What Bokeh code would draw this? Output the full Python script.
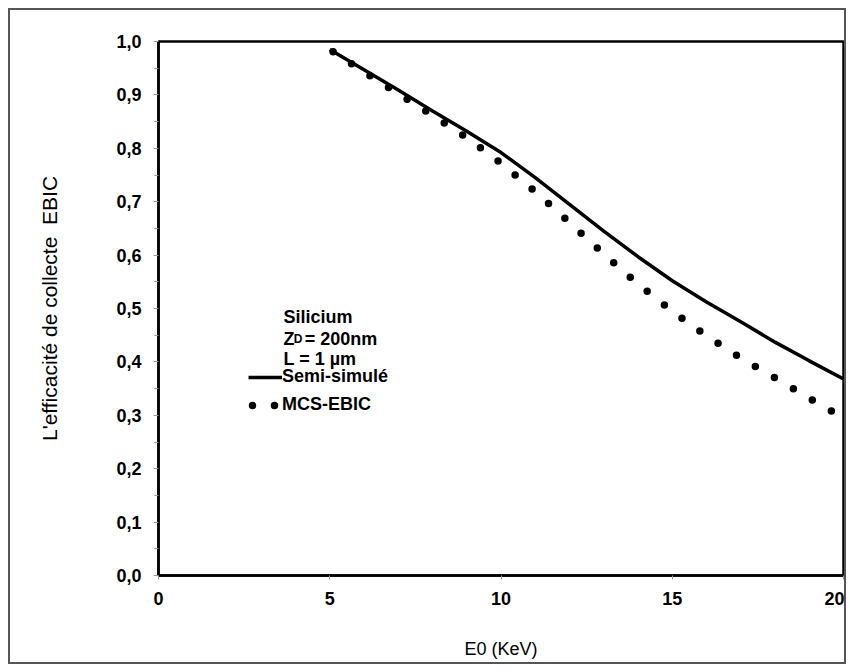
from bokeh.plotting import figure
from bokeh.models import FixedTicker, Legend, LegendItem, Label, Range1d
from bokeh.embed import file_html
from bokeh.resources import INLINE

# ---- data ----
energy_kev = [5, 6, 7, 8, 9, 10, 11, 12, 13, 14, 15, 16, 17, 18, 19, 20]
semi_simule = [0.985, 0.947, 0.909, 0.870, 0.832, 0.792, 0.745, 0.695,
               0.645, 0.597, 0.552, 0.512, 0.475, 0.437, 0.402, 0.368]
mcs_ebic = [0.985, 0.943, 0.902, 0.862, 0.820, 0.772, 0.719, 0.661,
            0.602, 0.546, 0.495, 0.449, 0.407, 0.370, 0.332, 0.295]

x_ticks = [0, 5, 10, 15, 20]
x_tick_labels = ["0", "5", "10", "15", "20"]
y_ticks = [0.0, 0.1, 0.2, 0.3, 0.4, 0.5, 0.6, 0.7, 0.8, 0.9, 1.0]
y_tick_labels = ["0,0", "0,1", "0,2", "0,3", "0,4", "0,5", "0,6", "0,7", "0,8", "0,9", "1,0"]
y_minor = [round(t + 0.05, 2) for t in y_ticks[:-1]]

series_names = ["Semi-simulé", "MCS-EBIC"]
x_title = "E0 (KeV)"
y_title = "L'efficacité de collecte\u00a0 EBIC"
note_lines = ["Silicium", "Z", "D", "= 200nm", "L = 1 µm"]

FONT = "Liberation Sans"

p = figure(width=838, height=656, output_backend="svg", toolbar_location=None,
           x_range=Range1d(0, 20), y_range=Range1d(0, 1.0),
           min_border_left=148, min_border_right=5, min_border_top=31,
           min_border_bottom=91)
p.margin = (8, 0, 0, 8)
p.styles = {"border": "2px solid #555"}

p.grid.visible = False
p.outline_line_color = "black"
p.outline_line_width = 2.5
p.background_fill_color = "white"
p.border_fill_color = "white"

# axes
p.xaxis.ticker = FixedTicker(ticks=x_ticks)
p.xaxis.major_label_overrides = dict(zip(x_ticks, x_tick_labels))
p.yaxis.ticker = FixedTicker(ticks=y_ticks, minor_ticks=y_minor)
p.yaxis.major_label_overrides = dict(zip(y_ticks, y_tick_labels))

for ax in (p.xaxis[0], p.yaxis[0]):
    ax.axis_line_color = "black"
    ax.axis_line_width = 2.5
    ax.major_tick_line_color = "#999999"
    ax.minor_tick_line_color = "#999999"
    ax.major_tick_in = 0
    ax.minor_tick_in = 0
    ax.major_label_text_font = FONT
    ax.major_label_text_font_style = "bold"
    ax.major_label_text_font_size = "18px"
    ax.major_label_text_color = "black"
    ax.axis_label_text_font = FONT
    ax.axis_label_text_font_style = "normal"
    ax.axis_label_text_color = "black"

p.xaxis.major_tick_out = 4
p.xaxis.minor_tick_out = 0
p.xaxis.major_label_standoff = 12
p.xaxis.axis_label = x_title
p.xaxis.axis_label_text_font_size = "18px"
p.xaxis.axis_label_standoff = 31

p.yaxis.major_tick_out = 5
p.yaxis.minor_tick_out = 4
p.yaxis.major_label_standoff = 12
p.yaxis.axis_label = y_title
p.yaxis.axis_label_text_font_size = "21px"
p.yaxis.axis_label_standoff = 52

# series
r_semi = p.line(energy_kev, semi_simule, line_color="black", line_width=3.5)
r_mcs = p.line(energy_kev, mcs_ebic, line_color="black", line_width=7.5,
               line_dash="0 22", line_dash_offset=18, line_cap="round")

legend = Legend(items=[LegendItem(label=series_names[0], renderers=[r_semi]),
                       LegendItem(label=series_names[1], renderers=[r_mcs])],
                location=(86, 156), padding=4, margin=0, spacing=7,
                glyph_width=34, glyph_height=20, label_height=20,
                label_standoff=0, border_line_alpha=0, background_fill_alpha=0,
                label_text_font=FONT, label_text_font_style="bold",
                label_text_font_size="18px", label_text_color="black")
p.add_layout(legend)

# annotation text block
common = dict(text_font=FONT, text_font_style="bold", text_color="black",
              text_baseline="alphabetic", text_align="left")
p.add_layout(Label(x=3.65, y=0.484, text=note_lines[0], text_font_size="18px", **common))
p.add_layout(Label(x=3.65, y=0.442, text=note_lines[1], text_font_size="18px", **common))
p.add_layout(Label(x=3.95, y=0.442, text=note_lines[2], text_font_size="12px", **common))
p.add_layout(Label(x=4.27, y=0.442, text=note_lines[3], text_font_size="18px", **common))
p.add_layout(Label(x=3.65, y=0.406, text=note_lines[4], text_font_size="18px", **common))

open("out.html", "w").write(file_html(p, INLINE))
